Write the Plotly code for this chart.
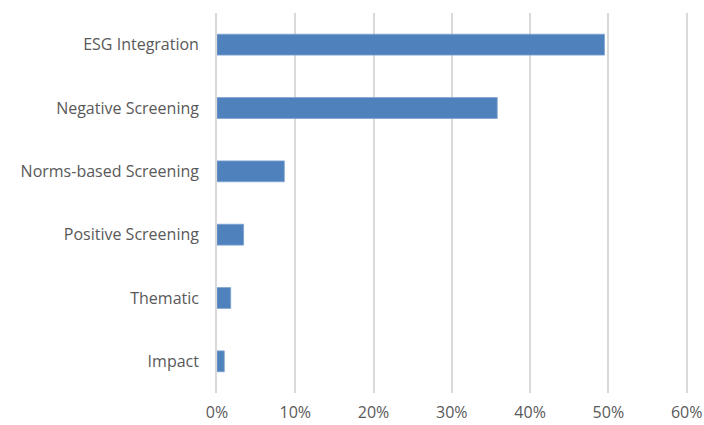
import plotly.graph_objects as go

categories = ["ESG Integration", "Negative Screening", "Norms-based Screening",
              "Positive Screening", "Thematic", "Impact"]
values = [0.495, 0.358, 0.086, 0.034, 0.0175, 0.0093]
x_ticks = [0, 0.1, 0.2, 0.3, 0.4, 0.5, 0.6]
x_labels = ["0%", "10%", "20%", "30%", "40%", "50%", "60%"]

fig = go.Figure(go.Bar(
    y=categories, x=values, orientation="h",
    marker=dict(color="#4f81bd", line=dict(color="#7fa3d0", width=0.8)),
))
fig.update_layout(
    width=704, height=425,
    margin=dict(l=217, r=15, t=13, b=32, autoexpand=False),
    paper_bgcolor="white", plot_bgcolor="white",
    bargap=0.67, showlegend=False,
    font=dict(family="Open Sans", size=16, color="#595959"),
)
fig.update_xaxes(range=[0, 0.603], tickvals=x_ticks, ticktext=x_labels,
                 automargin=False,
                 showgrid=True, gridcolor="#d9d9d9", gridwidth=1.75,
                 zeroline=False, showline=False,
                 ticks="outside", ticklen=5, tickcolor="rgba(0,0,0,0)")
fig.update_yaxes(categoryorder="array", categoryarray=categories[::-1],
                 automargin=False,
                 showgrid=False, zeroline=False,
                 showline=True, linecolor="#d9d9d9", linewidth=1.75,
                 ticks="outside", ticklen=13, tickcolor="rgba(0,0,0,0)")
fig.write_html("out.html")
